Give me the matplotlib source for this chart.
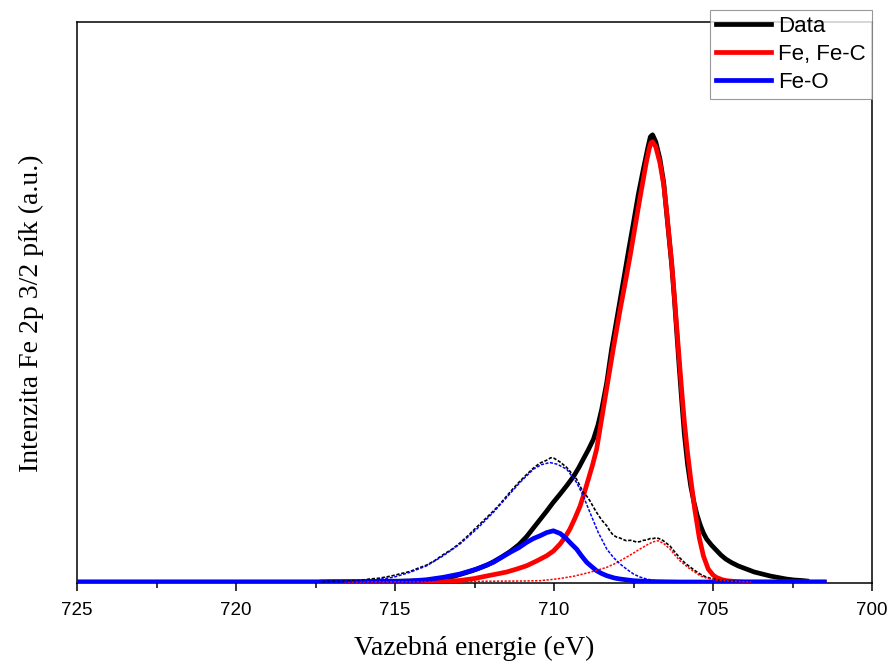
import matplotlib
matplotlib.use("Agg")
import matplotlib.pyplot as plt
from matplotlib.ticker import MultipleLocator

# Fe 2p3/2 spectrum (binding energy in eV, intensity in a.u.)
data_e = [717.3, 717.0, 716.5, 716.0, 715.5, 715.0, 714.5, 714.0, 713.8, 713.58,
          713.3, 713.06, 712.8, 712.55, 712.3, 712.1, 711.92, 711.65, 711.38, 711.1,
          710.86, 710.65, 710.44, 710.23, 710.03, 709.81, 709.6, 709.39, 709.23, 709.08,
          708.92, 708.76, 708.62, 708.5, 708.34, 708.19, 708.0, 707.8, 707.65, 707.5,
          707.35, 707.2, 707.05, 706.97, 706.9, 706.8, 706.67, 706.55, 706.46, 706.38,
          706.3, 706.22, 706.14, 706.06, 705.98, 705.9, 705.8, 705.7, 705.6, 705.5,
          705.4, 705.3, 705.2, 705.05, 704.9, 704.75, 704.6, 704.42, 704.2, 703.95,
          703.7, 703.45, 703.2, 702.95, 702.7, 702.45, 702.2, 702.05]
data_i = [0.0, 0.2, 0.3, 0.4, 0.6, 0.8, 1.0, 1.5, 2.5, 3.5,
          4.5, 6.5, 9.0, 11.5, 14.5, 17.0, 20.0, 25.0, 30.5, 37.5,
          45.5, 54.0, 62.5, 71.0, 79.5, 88.0, 96.5, 105.5, 114.0, 123.0,
          132.5, 143.0, 157.0, 173.0, 200.0, 233.0, 268.0, 305.0, 333.0, 360.0,
          388.0, 412.0, 435.0, 446.0, 448.0, 441.0, 424.0, 400.0, 370.0, 344.0,
          318.0, 286.0, 250.0, 214.0, 180.0, 148.0, 118.0, 96.0, 80.0, 67.0,
          57.0, 49.0, 43.0, 37.0, 32.0, 27.0, 23.0, 19.5, 16.0, 13.0,
          10.0, 8.0, 6.0, 4.5, 3.0, 2.0, 1.5, 1.0]

# Fe / Fe-C component
fe_e = [725.0, 715.0, 714.0, 713.49, 712.96, 712.5, 712.12, 711.8, 711.49, 711.17,
        710.86, 710.55, 710.23, 710.02, 709.81, 709.65, 709.5, 709.34, 709.18, 709.05,
        708.92, 708.79, 708.66, 708.53, 708.4, 708.27, 708.14, 708.03, 707.92, 707.76,
        707.61, 707.45, 707.29, 707.1, 707.0, 706.95, 706.9, 706.8, 706.67, 706.55,
        706.46, 706.38, 706.3, 706.22, 706.14, 706.06, 705.98, 705.9, 705.81, 705.7,
        705.57, 705.43, 705.3, 705.15, 705.0, 704.89, 704.7, 704.57, 704.3, 704.0,
        701.5]
fe_i = [0.0, 0.0, 0.2, 0.5, 1.5, 3.5, 6.0, 8.0, 10.0, 13.0,
        16.3, 21.0, 26.3, 31.0, 38.0, 45.0, 53.0, 64.0, 76.0, 89.0,
        103.0, 117.0, 133.0, 158.0, 183.0, 208.0, 233.0, 253.0, 273.0, 300.0,
        326.0, 356.0, 386.0, 420.0, 435.0, 440.0, 441.0, 436.0, 420.0, 398.0,
        372.0, 346.0, 320.0, 288.0, 255.0, 222.0, 190.0, 160.0, 132.0, 103.0,
        72.0, 44.0, 26.0, 13.0, 7.0, 4.5, 2.2, 1.3, 0.5, 0.0,
        0.0]

# Fe-O component
feo_e = [725.0, 716.0, 715.5, 714.9, 714.53, 714.0, 713.48, 712.96, 712.43, 711.91,
         711.38, 711.1, 710.86, 710.65, 710.44, 710.23, 710.02, 709.8, 709.6, 709.45,
         709.29, 709.13, 708.97, 708.8, 708.66, 708.5, 708.34, 708.1, 707.92, 707.5,
         707.0, 706.5, 706.0, 701.5]
feo_i = [0.0, 0.0, 0.3, 0.6, 1.0, 2.3, 4.7, 8.0, 13.0, 19.7,
         29.7, 34.5, 39.7, 43.5, 46.3, 49.5, 51.3, 48.5, 43.0, 38.0,
         33.0, 26.0, 19.7, 15.0, 11.3, 8.5, 6.3, 4.0, 3.0, 1.3,
         0.5, 0.2, 0.0, 0.0]

# magnified residual and its two components
resid_e = [717.3, 717.0, 716.7, 716.4, 716.1, 715.8, 715.5, 715.2, 715.05, 714.8,
           714.53, 714.3, 714.0, 713.75, 713.48, 713.2, 712.96, 712.7, 712.43, 712.2,
           711.91, 711.7, 711.49, 711.3, 711.07, 710.85, 710.65, 710.45, 710.23, 710.1,
           710.0, 709.8, 709.6, 709.45, 709.29, 709.18, 709.08, 708.97, 708.87, 708.76,
           708.66, 708.5, 708.34, 708.24, 708.14, 708.03, 707.92, 707.82, 707.72, 707.6,
           707.5, 707.4, 707.29, 707.19, 707.09, 706.98, 706.88, 706.8, 706.72, 706.62,
           706.55, 706.45, 706.35, 706.2, 706.04, 705.88, 705.72, 705.55, 705.41, 705.25,
           705.09, 704.9, 704.75, 704.57, 704.4, 704.2]
resid_i = [0.3, 0.8, 0.5, 1.2, 1.5, 3.0, 3.8, 5.5, 6.5, 8.5,
           10.5, 13.5, 17.0, 21.5, 27.5, 33.0, 39.0, 46.5, 55.0, 62.0,
           71.0, 78.0, 86.0, 93.0, 101.0, 108.0, 114.0, 119.0, 122.0, 124.5,
           124.0, 120.0, 114.7, 109.0, 103.0, 96.0, 89.7, 86.0, 81.3, 75.0,
           69.7, 62.0, 56.3, 51.0, 47.0, 45.0, 44.0, 42.5, 41.3, 41.8,
           41.0, 40.0, 40.5, 41.8, 42.0, 43.5, 43.5, 44.2, 43.7, 42.5,
           41.0, 38.5, 36.0, 30.0, 24.0, 19.0, 15.0, 11.0, 8.0, 5.5,
           3.7, 2.5, 1.8, 1.3, 0.8, 0.5]

feo_zoom_e = [716.6, 716.1, 715.58, 715.05, 714.53, 714.0, 713.48, 712.96, 712.43, 711.91,
              711.49, 711.07, 710.65, 710.4, 710.13, 709.9, 709.6, 709.29, 709.08, 708.87,
              708.61, 708.34, 708.13, 707.92, 707.7, 707.5, 707.3, 707.09, 706.8, 706.46,
              706.2]
feo_zoom_i = [0.3, 1.0, 2.3, 4.7, 9.7, 16.3, 26.3, 38.0, 53.0, 69.7,
              84.7, 99.7, 113.0, 117.5, 119.7, 118.0, 113.0, 99.7, 86.3, 69.7,
              49.7, 33.0, 24.5, 18.0, 12.5, 8.0, 5.0, 3.0, 1.2, 0.3,
              0.0]

fe_zoom_e = [716.6, 714.0, 712.0, 711.0, 710.44, 709.92, 709.39, 708.87, 708.34, 708.08,
             707.82, 707.55, 707.3, 707.0, 706.85, 706.72, 706.55, 706.35, 706.2, 706.04,
             705.88, 705.72, 705.55, 705.41, 705.25, 705.09, 704.9, 704.68, 704.27, 703.8]
fe_zoom_i = [0.0, 0.3, 0.8, 1.0, 1.3, 3.0, 5.7, 9.7, 14.7, 18.5,
             23.0, 28.0, 33.0, 38.5, 40.5, 41.3, 38.5, 33.0, 27.0, 21.3,
             17.0, 13.0, 9.5, 6.3, 4.5, 3.0, 2.0, 1.3, 0.5, 0.0]

series_labels = ["Data", "Fe, Fe-C", "Fe-O"]

fig = plt.figure(figsize=(8.89, 6.61), dpi=100)
ax = fig.add_axes([77 / 889, 78 / 661, 795 / 889, 561 / 661])

ax.plot(data_e, data_i, color="black", lw=3.4, label=series_labels[0], zorder=3)
ax.plot(fe_e, fe_i, color="#ff0000", lw=3.4, label=series_labels[1], zorder=3)
ax.plot(feo_e, feo_i, color="#0000ff", lw=3.4, label=series_labels[2], zorder=3)
ax.plot(resid_e, resid_i, color="black", lw=1.2, ls=(0, (2, 1)), zorder=4)
ax.plot(fe_zoom_e, fe_zoom_i, color="#ff0000", lw=1.1, ls=(0, (1.5, 1)), zorder=4)
ax.plot(feo_zoom_e, feo_zoom_i, color="#0000ff", lw=1.1, ls=(0, (2, 1)), zorder=4)

ax.set_xlim(725, 700)
ax.set_ylim(-1, 561)
ax.xaxis.set_major_locator(MultipleLocator(5))
ax.xaxis.set_minor_locator(MultipleLocator(2.5))
ax.tick_params(axis="x", which="major", direction="out", length=6, width=1.1,
               pad=8, labelsize=13.5, top=False)
ax.tick_params(axis="x", which="minor", direction="out", length=3.5, width=1.1, top=False)
ax.tick_params(axis="y", left=False, right=False, labelleft=False)
for lbl in ax.get_xticklabels():
    lbl.set_family("Liberation Sans")
for sp in ax.spines.values():
    sp.set_linewidth(1.1)

ax.set_xlabel("Vazebná energie (eV)", family="Liberation Serif", fontsize=20, labelpad=12)
ax.set_ylabel("Intenzita Fe 2p 3/2 pík (a.u.)", family="Liberation Serif", fontsize=20)
ax.yaxis.set_label_coords(-0.041, 0.481)

leg = ax.legend(loc="upper right", bbox_to_anchor=(1.0, 1 + 12 / 561),
                prop={"family": "Liberation Sans", "size": 16},
                fancybox=False, frameon=True, borderpad=0.28, borderaxespad=0,
                handlelength=2.5, handletextpad=0.3, labelspacing=0.31)
leg.get_frame().set_edgecolor("#808080")
leg.get_frame().set_linewidth(0.8)
for ln in leg.get_lines():
    ln.set_linewidth(3.4)

fig.savefig("out.png", dpi=100)
